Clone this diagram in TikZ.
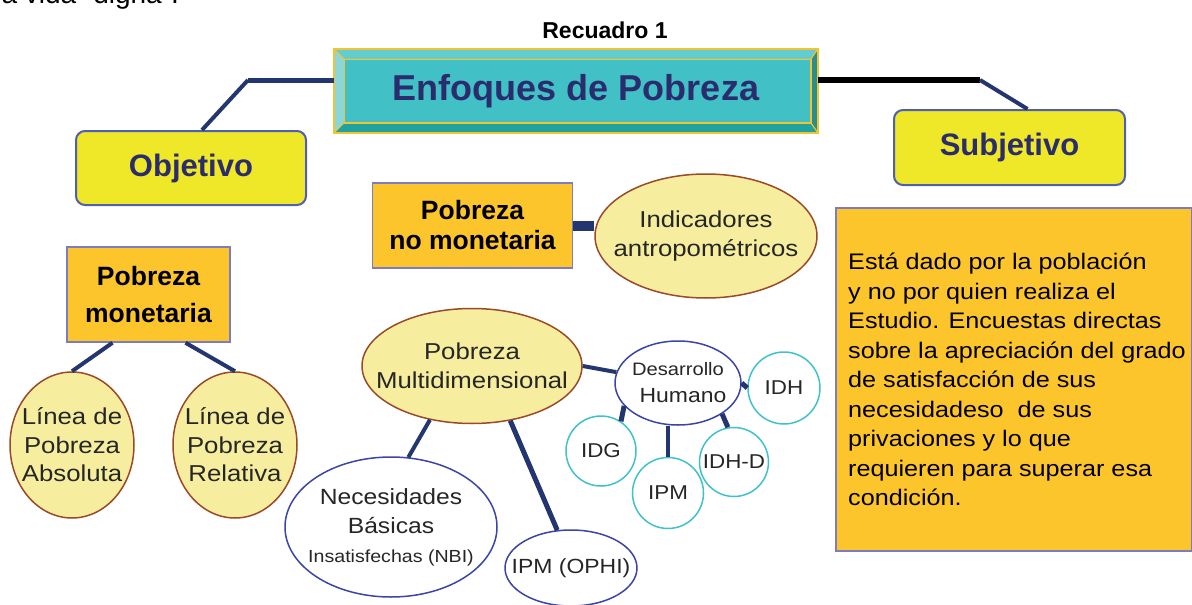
\documentclass[tikz,border=0pt]{standalone}
\usepackage{fontspec}
\setmainfont{Liberation Sans}
\newfontfamily\widesans{Liberation Sans}[FakeStretch=1.12]
\usetikzlibrary{shapes.geometric}

\definecolor{boxteal}{HTML}{41C0C6}
\definecolor{bevellight}{HTML}{8AD7DB}
\definecolor{bevelmid}{HTML}{62CCD0}
\definecolor{beveldark}{HTML}{2A8E8E}
\definecolor{bevellow}{HTML}{1FA2A0}
\definecolor{bevelgold}{HTML}{F4C430}
\definecolor{titlenavy}{HTML}{2A2C6E}
\definecolor{linknavy}{HTML}{24366F}
\definecolor{tagyellow}{HTML}{EEE828}
\definecolor{tagborder}{HTML}{4F5FB0}
\definecolor{boxorange}{HTML}{FCC52C}
\definecolor{boxborder}{HTML}{7B7CC4}
\definecolor{ovalfill}{HTML}{F6EE9E}
\definecolor{ovalborder}{HTML}{9A4A28}
\definecolor{ringblue}{HTML}{3C44A6}
\definecolor{ringcyan}{HTML}{40C2CA}

\tikzset{
  tagbox/.style={draw=tagborder, line width=2pt, fill=tagyellow, rounded corners=9pt,
    text=titlenavy, font=\bfseries\fontsize{31}{36}\selectfont},
  kindbox/.style={draw=boxborder, line width=1.5pt, fill=boxorange, align=center,
    font=\bfseries\fontsize{26.5}{30}\selectfont},
  ovalnode/.style={ellipse, draw=ovalborder, line width=1.5pt, fill=ovalfill, align=center,
    inner xsep=-30pt, inner ysep=-10pt, text=black!85, font=\widesans\fontsize{23}{28.5}\selectfont},
  ringnode/.style={ellipse, draw=ringblue, line width=1.5pt, fill=white, align=center,
    inner xsep=-30pt, inner ysep=-10pt, text=black!85, font=\widesans\fontsize{22}{29}\selectfont},
  idxcircle/.style={circle, draw=ringcyan, line width=1.5pt, fill=white, inner sep=0pt,
    text=black!85, font=\widesans\fontsize{20}{24}\selectfont},
  linkline/.style={draw=linknavy, line width=4pt},
}

\begin{document}
\begin{tikzpicture}[x=1pt, y=-1pt]
  \useasboundingbox (0,0) rectangle (1192,605);

  \node[anchor=base west, font=\fontsize{28}{32}\selectfont] (pagetext) at (-2,4) {a vida “digna”.};
  \node[font=\bfseries\fontsize{23}{27}\selectfont] (recuadro) at (605,30) {Recuadro 1};

  \node[draw=bevelgold, line width=1.5pt, fill=boxteal, minimum width=482pt, minimum height=82pt,
    text=titlenavy, font=\bfseries\fontsize{36}{40}\selectfont] (enfoques) at (576,91) {Enfoques de Pobreza};
  \coordinate (ei1) at ([shift={(10,10)}]enfoques.north west);
  \coordinate (ei2) at ([shift={(-7,10)}]enfoques.north east);
  \coordinate (ei3) at ([shift={(-7,-10)}]enfoques.south east);
  \coordinate (ei4) at ([shift={(10,-10)}]enfoques.south west);
  \begin{scope}[draw=bevelgold, line width=1pt]
    \filldraw[fill=bevelmid] (enfoques.north west) -- (enfoques.north east) -- (ei2) -- (ei1) -- cycle;
    \filldraw[fill=bevellight] (enfoques.north west) -- (enfoques.south west) -- (ei4) -- (ei1) -- cycle;
    \filldraw[fill=beveldark] (enfoques.north east) -- (enfoques.south east) -- (ei3) -- (ei2) -- cycle;
    \filldraw[fill=bevellow] (enfoques.south west) -- (enfoques.south east) -- (ei3) -- (ei4) -- cycle;
    \draw[line width=1.5pt] (ei1) rectangle (ei3);
    \draw[line width=2pt] (enfoques.north west) rectangle (enfoques.south east);
  \end{scope}

  \node[tagbox, minimum width=230pt, minimum height=74pt] (objetivo) at (191,168) {Objetivo};
  \node[tagbox, minimum width=231pt, minimum height=75pt] (subjetivo) at (1009.5,147.5) {Subjetivo};

  \node[kindbox, minimum width=163pt, minimum height=95pt] (monetaria) at (148.5,294.5) {Pobreza\\[7pt]monetaria};
  \node[kindbox, minimum width=200pt, minimum height=85pt] (nomonetaria) at (472.5,225.5) {Pobreza\\no monetaria};

  \node[ovalnode, minimum width=222pt, minimum height=124pt] (indicadores) at (706,236) {Indicadores\\antropométricos};
  \node[ovalnode, minimum width=124pt, minimum height=146pt] (absoluta) at (72,445) {Línea de\\Pobreza\\Absoluta};
  \node[ovalnode, minimum width=124pt, minimum height=146pt] (relativa) at (235,445) {Línea de\\Pobreza\\Relativa};
  \node[ovalnode, minimum width=220pt, minimum height=115pt] (multidim) at (472,366) {Pobreza\\Multidimensional};

  \node[ringnode, minimum width=212pt, minimum height=140pt] (nbi) at (391,527)
    {Necesidades\\Básicas\\{\fontsize{17.5}{20}\selectfont Insatisfechas (NBI)}};
  \node[ringnode, minimum width=132pt, minimum height=76pt, font=\widesans\fontsize{20.5}{24}\selectfont] (ophi) at (571,568) {IPM (OPHI)};
  \node[ringnode, minimum width=126pt, minimum height=84pt, font=\widesans\fontsize{20.5}{27}\selectfont] (desarrollo) at (678,383)
    {{\fontsize{18}{21}\selectfont Desarrollo}\\\hspace*{10pt}Humano};

  \node[idxcircle, minimum size=72pt] (idh) at (784,388) {IDH};
  \node[idxcircle, minimum size=70pt] (idg) at (601,451) {IDG};
  \node[idxcircle, minimum size=71pt] (ipm) at (668,493) {IPM};
  \node[idxcircle, minimum size=69pt] (idhd) at (734,462) {IDH-D};

  \node[draw=boxborder, line width=2pt, fill=boxorange, minimum width=356pt, minimum height=343pt,
    anchor=north west] (descbox) at (835,207) {};
  \node[anchor=west, align=left, inner sep=0pt, font=\widesans\fontsize{22.5}{29.5}\selectfont] (desctext)
    at ([xshift=13pt]descbox.west)
    {Está dado por la población\\y no por quien realiza el\\Estudio. Encuestas directas\\sobre la apreciación del grado\\de satisfacción de sus\\necesidadeso\ \ de sus\\privaciones y lo que\\requieren para superar esa\\condición.};

  \coordinate (leftbend) at (248,80);
  \coordinate (rightbend) at (980,80);
  \begin{scope}[linkline]
    \draw[line width=5pt] (leftbend -| enfoques.west) -- (leftbend);
    \draw (leftbend) -- ([xshift=11pt]objetivo.north);
    \draw[draw=black, line width=6pt] (rightbend -| enfoques.east) -- (rightbend);
    \draw (rightbend) -- ([xshift=18pt]subjetivo.north);
    \draw ([xshift=-36pt]monetaria.south) -- (absoluta.north);
    \draw ([xshift=37pt]monetaria.south) -- (relativa.north);
    \draw[line width=10pt] (nomonetaria.east) -- (nomonetaria.east -| indicadores.west);
    \draw (multidim.232) -- (nbi.76);
    \draw[line width=5pt] (multidim.305) -- (ophi.110);
    \draw (multidim.east) -- (desarrollo.170);
    \draw[line width=5pt] (desarrollo.east) -- (idh.west);
    \draw[line width=5pt] (desarrollo.203) -- (idg.56);
    \draw (ipm.north |- desarrollo.south) -- (ipm.north);
    \draw[line width=5pt] (desarrollo.325) -- (idhd.100);
  \end{scope}
\end{tikzpicture}
\end{document}
